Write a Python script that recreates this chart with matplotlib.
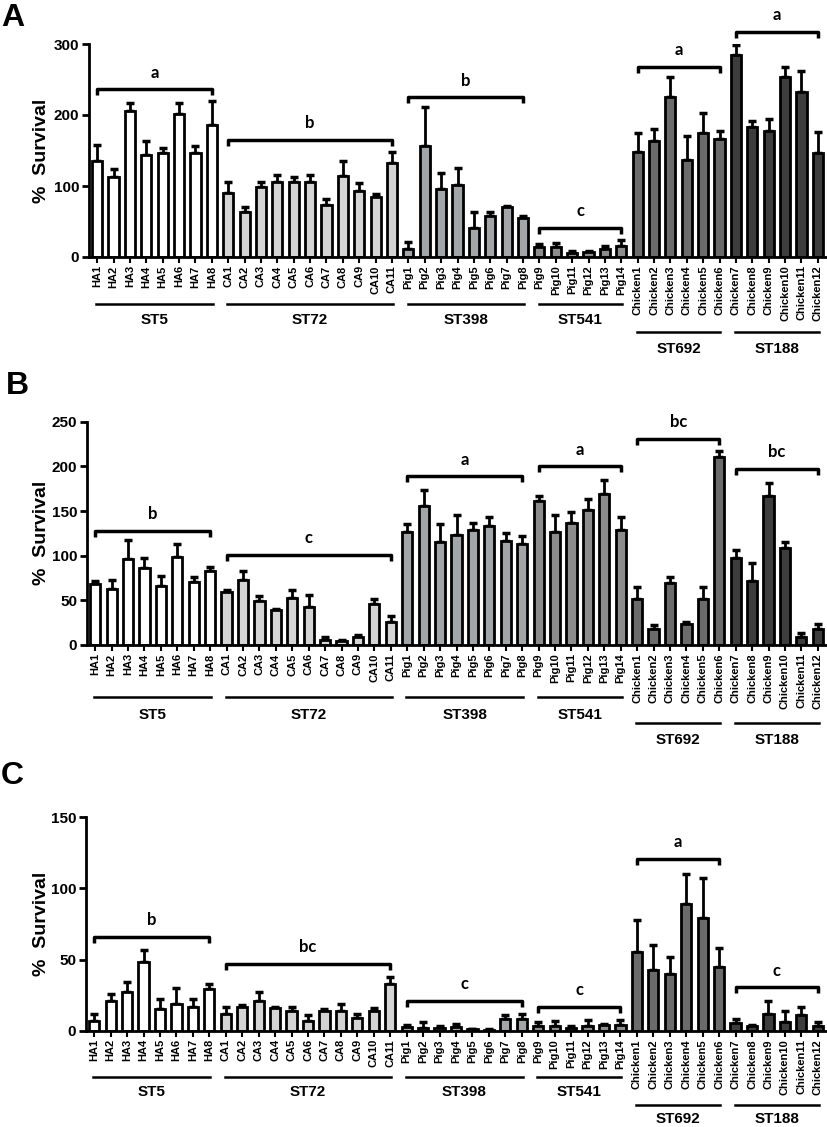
import numpy as np
import matplotlib.pyplot as plt
from matplotlib.transforms import offset_copy

plt.rcParams['font.family'] = ['Liberation Sans', 'DejaVu Sans']
plt.rcParams['font.weight'] = 'bold'

# isolates, grouped by sequence type
groups = ['ST5', 'ST72', 'ST398', 'ST541', 'ST692', 'ST188']
isolates = [
    ['HA%d' % i for i in range(1, 9)],
    ['CA%d' % i for i in range(1, 12)],
    ['Pig%d' % i for i in range(1, 9)],
    ['Pig%d' % i for i in range(9, 15)],
    ['Chicken%d' % i for i in range(1, 7)],
    ['Chicken%d' % i for i in range(7, 13)],
]
group_colors = ['white', '#d4d4d4', '#a3a6a9', '#8c8c8c', '#6b6b6b', '#3d3d3d']

# panel A  (mean, top of error bar)
a_mean = [135, 112, 206, 144, 146, 201, 146, 186,
          90, 63, 98, 106, 106, 105, 73, 114, 93, 85, 133,
          11, 156, 96, 101, 41, 58, 70, 55,
          14, 14, 6, 7, 11, 15,
          148, 164, 226, 136, 174, 166,
          285, 183, 177, 253, 233, 146]
a_top = [158, 124, 217, 164, 153, 217, 156, 220,
         106, 71, 106, 116, 113, 115, 81, 135, 104, 89, 148,
         21, 211, 118, 126, 64, 64, 72, 58,
         19, 20, 8, 8, 16, 24,
         175, 180, 254, 171, 203, 178,
         299, 192, 195, 268, 262, 176]
a_letters = ['a', 'b', 'b', 'c', 'a', 'a']
a_brackets = [236, 165, 225, 41, 268, 317]

# panel B
b_mean = [68, 63, 96, 86, 66, 99, 70, 83,
          59, 73, 49, 39, 53, 43, 6, 4.5, 9, 46, 26,
          126, 156, 115, 123, 129, 133, 116, 113,
          161, 127, 137, 151, 169, 129,
          52, 18, 69, 23, 51, 211,
          97, 72, 167, 109, 9, 18]
b_top = [72, 73, 117, 97, 77, 113, 76, 87,
         62, 83, 55, 40, 62, 56, 9, 6, 11, 51, 32,
         136, 173, 135, 145, 137, 143, 125, 122,
         167, 146, 149, 163, 185, 143,
         65, 22, 76, 26, 65, 217,
         106, 92, 181, 115, 13, 24]
b_letters = ['b', 'c', 'a', 'a', 'bc', 'bc']
b_brackets = [128, 101, 189, 200, 231, 197]

# panel C
c_mean = [7, 21, 27, 48, 15, 19, 17, 29,
          12, 17, 21, 16, 14, 7, 14, 14, 9, 14, 33,
          2.5, 2, 2, 2.5, 1, 0.7, 8, 8,
          3, 3.5, 2, 3, 4, 4,
          55, 43, 40, 89, 79, 45,
          5.6, 3, 12, 6, 11, 3]
c_top = [12, 26, 34, 57, 22, 30, 22, 33,
         17, 18, 27, 16.5, 17, 11, 15, 19, 12, 16, 37.5,
         4, 6, 3, 4.5, 1.5, 1, 11, 12,
         6, 7, 3, 7.5, 4.7, 7.5,
         78, 60, 52, 110, 107, 58,
         8, 4, 21, 14, 17, 6]
c_letters = ['b', 'bc', 'c', 'c', 'a', 'c']
c_brackets = [66, 47, 21, 17, 121, 30.5]

W, H = 827, 1127
fig = plt.figure(figsize=(W / 100, H / 100), dpi=100)

labels = [n for g in isolates for n in g]
x = np.arange(len(labels))
colors = [group_colors[i] for i, g in enumerate(isolates) for _ in g]
starts = np.cumsum([0] + [len(g) for g in isolates])


def panel(left, top, bottom, ymax, ystep, means, tops, letters, brackets,
          short_off, long_off, tag, tag_xy):
    ax = fig.add_axes([left / W, 1 - bottom / H, (W - 1 - left) / W, (bottom - top) / H])
    ax.bar(x, means, width=0.62, color=colors, edgecolor='black', linewidth=2, zorder=2)
    up = np.array(tops) - np.array(means)
    ax.errorbar(x, means, yerr=[np.zeros(len(x)), up], fmt='none', ecolor='black',
                elinewidth=2, capsize=3, capthick=2.5, zorder=1)
    ax.set_xlim(-0.5, len(x) - 0.5)
    ax.set_ylim(0, ymax)
    ax.set_yticks(np.arange(0, ymax + 1, ystep))
    ax.set_xticks(x)
    ax.set_xticklabels(labels, rotation=90, fontsize=8, fontweight='bold')
    ax.tick_params(axis='y', labelsize=11, width=2, length=5, pad=2)
    ax.tick_params(axis='x', width=1.5, length=4, pad=2)
    for s in ['top', 'right']:
        ax.spines[s].set_visible(False)
    for s in ['left', 'bottom']:
        ax.spines[s].set_linewidth(2)
    ppu = (bottom - top) / ymax  # pixels per unit
    for i in range(len(isolates)):
        x0, x1 = starts[i], starts[i + 1] - 1
        yb = brackets[i]
        d = 6 / ppu
        ax.plot([x0, x0, x1, x1], [yb - d, yb, yb, yb - d], color='black', lw=2.5,
                solid_capstyle='butt', clip_on=False)
        ax.annotate(letters[i], ((x0 + x1) / 2, yb), xytext=(0, 12),
                    textcoords='offset points', ha='center', va='center',
                    fontsize=12, fontweight='bold', family=['Lato', 'DejaVu Sans'],
                    annotation_clip=False)
        off = short_off if i < 4 else long_off
        tr_line = offset_copy(ax.get_xaxis_transform(), fig=fig, y=-off[0], units='dots')
        tr_text = offset_copy(ax.get_xaxis_transform(), fig=fig, y=-off[1], units='dots')
        ax.plot([x0 - 0.05, x1 + 0.05], [0, 0], color='black', lw=1.8,
                transform=tr_line, clip_on=False)
        ax.text((x0 + x1) / 2, 0, groups[i], transform=tr_text, ha='center',
                va='center', fontsize=11, fontweight='bold')
    fig.text(42 / W, 1 - (top + bottom) / 2 / H, '%  Survival', rotation=90,
             ha='center', va='center', fontsize=14, fontweight='bold')
    fig.text(tag_xy[0] / W, 1 - tag_xy[1] / H, tag, fontsize=23, fontweight='bold',
             ha='left', va='center')
    return ax


panel(89, 44, 257, 300, 100, a_mean, a_top, a_letters, a_brackets,
      (47, 63), (75, 92), 'A', (1, 18))
panel(87, 421.7, 645, 250, 50, b_mean, b_top, b_letters, b_brackets,
      (52, 70), (78, 95), 'B', (6, 386))
panel(86, 817.3, 1030.7, 150, 50, c_mean, c_top, c_letters, c_brackets,
      (46, 61), (74, 88), 'C', (1, 776))

fig.savefig('out.png', dpi=100)
